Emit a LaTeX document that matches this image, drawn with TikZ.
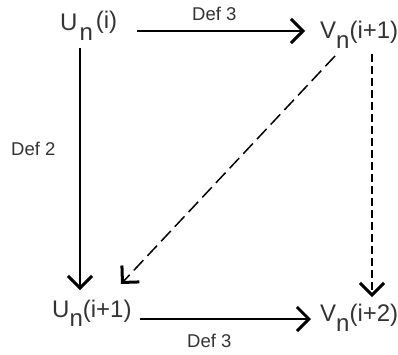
\documentclass[tikz,border=0pt]{standalone}
\usepackage{fontspec}
\setmainfont{Liberation Sans}
\usetikzlibrary{arrows.meta}
\definecolor{txt}{rgb}{0.2,0.2,0.2}
\tikzset{
  big/.style={anchor=base west, inner sep=0pt, text=txt, font=\fontsize{24}{24}\selectfont},
  deflab/.style={anchor=base west, inner sep=0pt, text=txt, font=\fontsize{18.5}{18.5}\selectfont},
  arr/.style={line width=1.5pt, -{Straight Barb[length=12pt,width=24pt,line width=3pt]}},
  dashedarr/.style={arr, dash pattern=on 14pt off 6pt},
  dotarr/.style={arr, dash pattern=on 8pt off 4pt}
}
\begin{document}
\begin{tikzpicture}[x=1pt,y=-1pt]
\useasboundingbox (0,0) rectangle (398,354);
% labels
\node[big] (ui)  at (60,30)  {U\kern2pt\raisebox{-10pt}{n}\kern3pt\raisebox{2pt}{(i)}};
\node[big] (vi1) at (320,38) {V\raisebox{-10pt}{n}(i+1)};
\node[big] (ui1) at (52,317) {U\raisebox{-9pt}{n}(i+1)};
\node[big] (vi2) at (320,321) {V\raisebox{-10pt}{n}(i+2)};
\node[deflab] (d3t) at (192,20) {Def 3};
\node[deflab] (d2) at (11,155) {Def 2};
\node[deflab] (d3b) at (187,347) {Def 3};
% connector ends
\coordinate (a1s) at (137,31);  \coordinate (a1e) at (305,31);
\coordinate (a2s) at (80,48);   \coordinate (a2e) at (80,290);
\coordinate (a3s) at (335,56);  \coordinate (a3e) at (121,284);
\coordinate (a4s) at (372,54);  \coordinate (a4e) at (372,297);
\coordinate (a5s) at (140,319); \coordinate (a5e) at (311,319);
% connectors
\draw[arr] (a1s) -- (a1e);
\draw[arr] (a2s) -- (a2e);
\draw[dashedarr] (a3s) -- (a3e);
\draw[dotarr] (a4s) -- (a4e);
\draw[arr] (a5s) -- (a5e);
\end{tikzpicture}
\end{document}
